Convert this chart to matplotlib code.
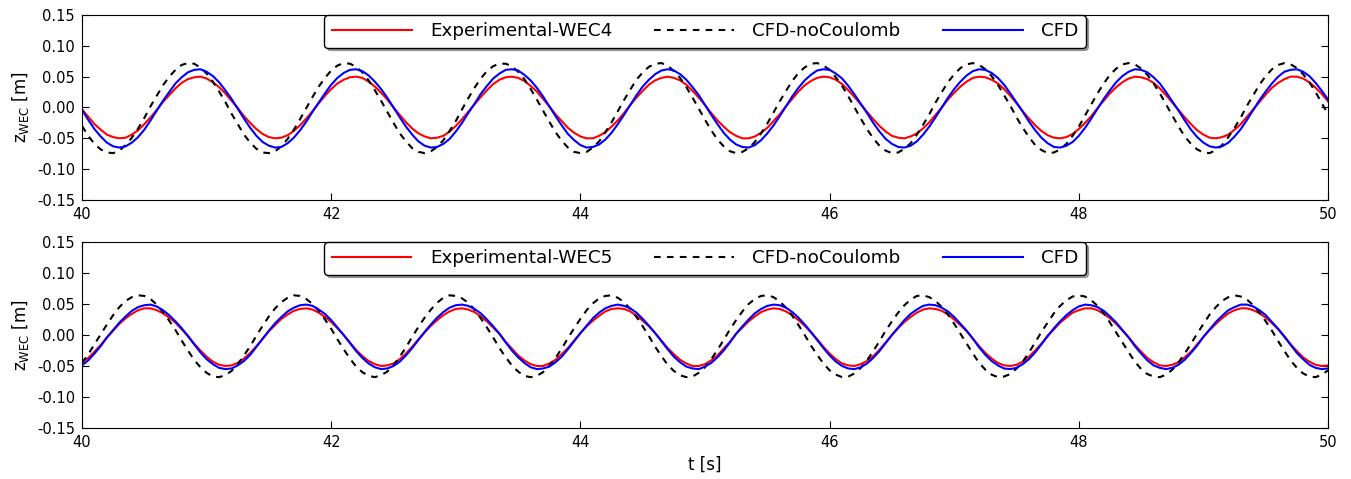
import numpy as np
import matplotlib
matplotlib.use("Agg")
import matplotlib.pyplot as plt

# heave displacement z_WEC [m] read off the figure, sampled every 0.1 s from 40 s to 50 s,
# plus the readings half way between those samples (40.05, 40.15, ...)

# upper panel (WEC4)
wec4_exp = [-0.003, -0.027, -0.044, -0.050, -0.044, -0.027, -0.004, 0.020, 0.040, 0.049,
            0.047, 0.033, 0.011, -0.014, -0.035, -0.048, -0.049, -0.038, -0.018, 0.007,
            0.030, 0.045, 0.050, 0.042, 0.024, 0.000, -0.024, -0.042, -0.050, -0.046,
            -0.030, -0.007, 0.017, 0.038, 0.049, 0.048, 0.035, 0.014, -0.011, -0.033,
            -0.047, -0.050, -0.040, -0.021, 0.004, 0.027, 0.044, 0.050, 0.044, 0.027,
            0.004, -0.021, -0.040, -0.050, -0.047, -0.033, -0.011, 0.014, 0.036, 0.048,
            0.049, 0.038, 0.017, -0.007, -0.030, -0.046, -0.050, -0.042, -0.024, 0.000,
            0.024, 0.042, 0.050, 0.045, 0.030, 0.007, -0.018, -0.038, -0.049, -0.048,
            -0.035, -0.014, 0.011, 0.033, 0.047, 0.049, 0.040, 0.020, -0.004, -0.027,
            -0.044, -0.050, -0.044, -0.027, -0.003, 0.021, 0.040, 0.050, 0.047, 0.032,
            0.010]
wec4_exp_mid = [-0.015, -0.036, -0.048, -0.049, -0.037, -0.016, 0.009, 0.031, 0.046, 0.050,
                0.041, 0.023, -0.001, -0.025, -0.043, -0.050, -0.045, -0.029, -0.006, 0.019,
                0.039, 0.049, 0.048, 0.034, 0.013, -0.012, -0.034, -0.047, -0.049, -0.039,
                -0.019, 0.005, 0.028, 0.045, 0.050, 0.043, 0.026, 0.002, -0.022, -0.041,
                -0.050, -0.046, -0.031, -0.009, 0.016, 0.037, 0.048, 0.048, 0.037, 0.016,
                -0.009, -0.031, -0.046, -0.050, -0.041, -0.022, 0.002, 0.026, 0.043, 0.050,
                0.045, 0.028, 0.005, -0.019, -0.039, -0.049, -0.047, -0.034, -0.012, 0.013,
                0.034, 0.048, 0.049, 0.039, 0.019, -0.006, -0.029, -0.045, -0.050, -0.043,
                -0.025, -0.001, 0.023, 0.041, 0.050, 0.046, 0.031, 0.008, -0.016, -0.037,
                -0.049, -0.048, -0.036, -0.015, 0.009, 0.032, 0.046, 0.050, 0.041, 0.022]
wec4_nocoul = [-0.030, -0.059, -0.073, -0.070, -0.049, -0.017, 0.019, 0.050, 0.069, 0.071,
               0.055, 0.026, -0.010, -0.044, -0.067, -0.074, -0.063, -0.036, -0.001, 0.034,
               0.060, 0.072, 0.066, 0.044, 0.011, -0.025, -0.055, -0.072, -0.071, -0.053,
               -0.022, 0.015, 0.047, 0.067, 0.071, 0.058, 0.030, -0.005, -0.040, -0.065,
               -0.074, -0.065, -0.040, -0.006, 0.029, 0.057, 0.071, 0.068, 0.048, 0.016,
               -0.020, -0.052, -0.071, -0.072, -0.056, -0.026, 0.010, 0.043, 0.065, 0.072,
               0.061, 0.035, 0.000, -0.035, -0.062, -0.074, -0.067, -0.044, -0.011, 0.025,
               0.054, 0.070, 0.069, 0.051, 0.020, -0.016, -0.048, -0.069, -0.073, -0.059,
               -0.031, 0.005, 0.039, 0.063, 0.072, 0.063, 0.039, 0.005, -0.031, -0.059,
               -0.073, -0.069, -0.048, -0.016, 0.020, 0.051, 0.069, 0.070, 0.054, 0.025,
               -0.011]
wec4_nocoul_mid = [-0.046, -0.068, -0.074, -0.061, -0.034, 0.002, 0.036, 0.061, 0.072, 0.065,
                   0.042, 0.009, -0.027, -0.057, -0.073, -0.071, -0.051, -0.019, 0.017, 0.048,
                   0.068, 0.071, 0.057, 0.028, -0.007, -0.042, -0.066, -0.074, -0.064, -0.038,
                   -0.003, 0.032, 0.059, 0.071, 0.067, 0.046, 0.013, -0.023, -0.054, -0.072,
                   -0.072, -0.055, -0.024, 0.012, 0.045, 0.066, 0.072, 0.059, 0.033, -0.002,
                   -0.037, -0.063, -0.074, -0.066, -0.042, -0.008, 0.027, 0.056, 0.071, 0.068,
                   0.049, 0.018, -0.018, -0.050, -0.070, -0.073, -0.058, -0.028, 0.008, 0.041,
                   0.064, 0.072, 0.062, 0.037, 0.003, -0.033, -0.061, -0.074, -0.068, -0.046,
                   -0.013, 0.023, 0.053, 0.070, 0.070, 0.053, 0.023, -0.013, -0.047, -0.068,
                   -0.074, -0.061, -0.033, 0.003, 0.037, 0.062, 0.072, 0.064, 0.041, 0.007]
wec4_cfd = [-0.004, -0.035, -0.057, -0.065, -0.057, -0.036, -0.005, 0.025, 0.049, 0.061,
            0.058, 0.041, 0.014, -0.018, -0.046, -0.062, -0.064, -0.049, -0.023, 0.008,
            0.037, 0.056, 0.062, 0.052, 0.030, 0.000, -0.031, -0.055, -0.065, -0.059,
            -0.039, -0.009, 0.022, 0.047, 0.061, 0.060, 0.044, 0.018, -0.014, -0.043,
            -0.061, -0.064, -0.052, -0.027, 0.004, 0.034, 0.054, 0.062, 0.054, 0.033,
            0.004, -0.027, -0.052, -0.064, -0.061, -0.042, -0.014, 0.018, 0.044, 0.060,
            0.061, 0.047, 0.021, -0.009, -0.039, -0.059, -0.065, -0.055, -0.031, 0.000,
            0.030, 0.052, 0.062, 0.056, 0.037, 0.008, -0.023, -0.049, -0.064, -0.062,
            -0.046, -0.018, 0.014, 0.041, 0.058, 0.061, 0.049, 0.025, -0.005, -0.036,
            -0.057, -0.065, -0.057, -0.035, -0.004, 0.026, 0.050, 0.061, 0.058, 0.040,
            0.013]
wec4_cfd_mid = [-0.020, -0.047, -0.063, -0.063, -0.048, -0.021, 0.011, 0.039, 0.057, 0.062,
                0.051, 0.028, -0.002, -0.033, -0.056, -0.065, -0.058, -0.037, -0.007, 0.023,
                0.048, 0.061, 0.059, 0.042, 0.016, -0.016, -0.044, -0.062, -0.064, -0.051,
                -0.025, 0.006, 0.035, 0.055, 0.062, 0.053, 0.032, 0.002, -0.029, -0.053,
                -0.065, -0.060, -0.041, -0.012, 0.020, 0.045, 0.060, 0.060, 0.045, 0.020,
                -0.012, -0.041, -0.060, -0.065, -0.053, -0.029, 0.002, 0.032, 0.053, 0.062,
                0.055, 0.035, 0.006, -0.025, -0.051, -0.064, -0.062, -0.044, -0.016, 0.016,
                0.042, 0.059, 0.061, 0.048, 0.023, -0.007, -0.037, -0.058, -0.065, -0.056,
                -0.033, -0.002, 0.028, 0.051, 0.062, 0.057, 0.039, 0.010, -0.021, -0.048,
                -0.063, -0.063, -0.047, -0.020, 0.012, 0.039, 0.058, 0.062, 0.051, 0.027]

# lower panel (WEC5)
wec5_exp = [-0.044, -0.027, -0.004, 0.018, 0.034, 0.043, 0.040, 0.028, 0.009, -0.014,
            -0.035, -0.048, -0.049, -0.038, -0.018, 0.006, 0.026, 0.039, 0.043, 0.036,
            0.021, 0.000, -0.024, -0.042, -0.050, -0.046, -0.030, -0.007, 0.015, 0.032,
            0.042, 0.041, 0.030, 0.012, -0.011, -0.033, -0.047, -0.050, -0.040, -0.021,
            0.003, 0.023, 0.038, 0.043, 0.038, 0.023, 0.003, -0.021, -0.040, -0.050,
            -0.047, -0.033, -0.011, 0.012, 0.030, 0.041, 0.042, 0.032, 0.015, -0.007,
            -0.030, -0.046, -0.050, -0.042, -0.024, 0.000, 0.021, 0.036, 0.043, 0.039,
            0.025, 0.006, -0.018, -0.038, -0.049, -0.048, -0.035, -0.014, 0.009, 0.028,
            0.040, 0.043, 0.034, 0.018, -0.004, -0.027, -0.044, -0.050, -0.044, -0.027,
            -0.003, 0.018, 0.035, 0.043, 0.040, 0.028, 0.009, -0.015, -0.036, -0.048,
            -0.049]
wec5_exp_mid = [-0.037, -0.016, 0.007, 0.027, 0.040, 0.043, 0.035, 0.020, -0.001, -0.025,
                -0.043, -0.050, -0.045, -0.029, -0.006, 0.016, 0.033, 0.042, 0.041, 0.029,
                0.011, -0.012, -0.034, -0.047, -0.049, -0.039, -0.019, 0.004, 0.024, 0.038,
                0.043, 0.037, 0.022, 0.002, -0.022, -0.041, -0.050, -0.046, -0.031, -0.009,
                0.014, 0.031, 0.042, 0.042, 0.031, 0.014, -0.009, -0.031, -0.046, -0.050,
                -0.041, -0.022, 0.002, 0.022, 0.037, 0.043, 0.038, 0.024, 0.004, -0.019,
                -0.039, -0.049, -0.047, -0.034, -0.012, 0.011, 0.029, 0.041, 0.042, 0.033,
                0.016, -0.006, -0.029, -0.045, -0.050, -0.043, -0.025, -0.001, 0.020, 0.036,
                0.043, 0.040, 0.027, 0.007, -0.016, -0.037, -0.049, -0.048, -0.036, -0.015,
                0.008, 0.027, 0.040, 0.043, 0.035, 0.019, -0.002, -0.026, -0.043, -0.050]
wec5_nocoul = [-0.045, -0.015, 0.017, 0.045, 0.061, 0.063, 0.049, 0.023, -0.009, -0.040,
               -0.061, -0.068, -0.058, -0.033, -0.001, 0.030, 0.053, 0.064, 0.058, 0.039,
               0.010, -0.023, -0.051, -0.066, -0.065, -0.049, -0.020, 0.013, 0.041, 0.060,
               0.063, 0.052, 0.027, -0.004, -0.036, -0.059, -0.068, -0.060, -0.037, -0.005,
               0.026, 0.051, 0.063, 0.060, 0.042, 0.014, -0.019, -0.048, -0.065, -0.067,
               -0.052, -0.024, 0.009, 0.038, 0.058, 0.064, 0.054, 0.031, 0.000, -0.032,
               -0.057, -0.068, -0.062, -0.041, -0.010, 0.022, 0.048, 0.063, 0.061, 0.045,
               0.018, -0.014, -0.045, -0.064, -0.067, -0.054, -0.028, 0.005, 0.035, 0.056,
               0.064, 0.056, 0.035, 0.004, -0.028, -0.055, -0.067, -0.064, -0.044, -0.014,
               0.018, 0.045, 0.061, 0.062, 0.048, 0.022, -0.010, -0.041, -0.062, -0.068,
               -0.057]
wec5_nocoul_mid = [-0.031, 0.001, 0.032, 0.055, 0.064, 0.058, 0.037, 0.008, -0.025, -0.052,
                   -0.067, -0.065, -0.047, -0.018, 0.015, 0.043, 0.060, 0.063, 0.050, 0.025,
                   -0.007, -0.038, -0.060, -0.068, -0.059, -0.035, -0.003, 0.028, 0.052, 0.064,
                   0.059, 0.041, 0.012, -0.021, -0.049, -0.066, -0.066, -0.050, -0.022, 0.011,
                   0.040, 0.059, 0.064, 0.053, 0.029, -0.002, -0.034, -0.058, -0.068, -0.061,
                   -0.039, -0.008, 0.024, 0.050, 0.063, 0.061, 0.044, 0.016, -0.017, -0.046,
                   -0.064, -0.067, -0.053, -0.026, 0.007, 0.036, 0.057, 0.064, 0.055, 0.033,
                   0.002, -0.030, -0.056, -0.068, -0.063, -0.043, -0.012, 0.020, 0.047, 0.062,
                   0.062, 0.047, 0.020, -0.012, -0.043, -0.063, -0.068, -0.056, -0.030, 0.002,
                   0.033, 0.055, 0.064, 0.057, 0.036, 0.007, -0.026, -0.053, -0.067, -0.064]
wec5_cfd = [-0.049, -0.030, -0.004, 0.020, 0.039, 0.048, 0.046, 0.032, 0.011, -0.015,
            -0.039, -0.053, -0.054, -0.042, -0.019, 0.007, 0.029, 0.044, 0.049, 0.041,
            0.024, 0.000, -0.026, -0.046, -0.055, -0.050, -0.033, -0.008, 0.017, 0.037,
            0.048, 0.047, 0.035, 0.014, -0.012, -0.036, -0.052, -0.054, -0.044, -0.023,
            0.003, 0.027, 0.043, 0.049, 0.043, 0.026, 0.003, -0.023, -0.044, -0.054,
            -0.051, -0.036, -0.012, 0.014, 0.035, 0.047, 0.048, 0.037, 0.017, -0.008,
            -0.033, -0.050, -0.055, -0.046, -0.026, 0.000, 0.024, 0.041, 0.049, 0.044,
            0.029, 0.007, -0.020, -0.042, -0.054, -0.053, -0.039, -0.015, 0.011, 0.032,
            0.046, 0.048, 0.039, 0.020, -0.004, -0.030, -0.049, -0.055, -0.048, -0.029,
            -0.003, 0.021, 0.040, 0.049, 0.046, 0.032, 0.010, -0.016, -0.039, -0.053,
            -0.054]
wec5_cfd_mid = [-0.041, -0.018, 0.008, 0.030, 0.045, 0.049, 0.040, 0.022, -0.002, -0.028,
                -0.047, -0.055, -0.049, -0.032, -0.006, 0.019, 0.038, 0.048, 0.047, 0.034,
                0.012, -0.013, -0.037, -0.052, -0.054, -0.043, -0.021, 0.005, 0.028, 0.044,
                0.049, 0.042, 0.025, 0.002, -0.025, -0.045, -0.055, -0.051, -0.035, -0.010,
                0.015, 0.036, 0.047, 0.047, 0.036, 0.015, -0.010, -0.035, -0.051, -0.055,
                -0.045, -0.025, 0.002, 0.025, 0.042, 0.049, 0.044, 0.028, 0.005, -0.021,
                -0.043, -0.054, -0.052, -0.037, -0.013, 0.012, 0.034, 0.047, 0.048, 0.038,
                0.018, -0.006, -0.032, -0.049, -0.055, -0.047, -0.028, -0.002, 0.022, 0.040,
                0.049, 0.045, 0.030, 0.008, -0.018, -0.041, -0.053, -0.053, -0.040, -0.017,
                0.009, 0.031, 0.045, 0.049, 0.040, 0.021, -0.003, -0.029, -0.048, -0.055]

panels = [
    ("Experimental-WEC4", (wec4_exp, wec4_exp_mid), (wec4_nocoul, wec4_nocoul_mid),
     (wec4_cfd, wec4_cfd_mid)),
    ("Experimental-WEC5", (wec5_exp, wec5_exp_mid), (wec5_nocoul, wec5_nocoul_mid),
     (wec5_cfd, wec5_cfd_mid)),
]

t = 40 + 0.05 * np.arange(201)


def merge(pair):
    # put the 0.1 s samples and the in-between readings back in time order
    full, mid = pair
    z = np.empty(len(full) + len(mid))
    z[0::2] = full
    z[1::2] = mid
    return z


plt.rcParams["mathtext.default"] = "regular"

fig = plt.figure(figsize=(13.51, 4.79), dpi=100)
ax_top = fig.add_axes([0.0607, 0.5825, 0.9223, 0.3862])
ax_bot = fig.add_axes([0.0607, 0.1065, 0.9223, 0.3883])

for ax, (exp_label, exp_data, nocoul_data, cfd_data) in zip([ax_top, ax_bot], panels):
    ax.plot(t, merge(exp_data), color="r", lw=1.5, label=exp_label)
    ax.plot(t, merge(nocoul_data), color="k", lw=1.5, ls=(0, (3.2, 3.0)),
            label="CFD-noCoulomb")
    ax.plot(t, merge(cfd_data), color="b", lw=1.5, label="CFD")
    ax.set_xlim(40, 50)
    ax.set_ylim(-0.15, 0.15)
    ax.set_xticks([40, 42, 44, 46, 48, 50])
    ax.set_yticks([-0.15, -0.10, -0.05, 0.00, 0.05, 0.10, 0.15])
    ax.yaxis.set_major_formatter(plt.FormatStrFormatter("%.2f"))
    ax.tick_params(direction="in", top=True, right=True, length=5,
                   labelsize=10.5, pad=5)
    ax.set_ylabel(r"z$_{WEC}$ [m]", fontsize=12)
    leg = ax.legend(loc="upper center", bbox_to_anchor=(0.5, 1.0), ncol=3,
                    borderaxespad=0, fontsize=13.2, handlelength=4.35,
                    handletextpad=1.0, columnspacing=2.3, fancybox=True,
                    shadow=True, framealpha=1)
    leg.get_frame().set_edgecolor("black")

ax_bot.set_xlabel("t [s]", fontsize=12)

fig.savefig("out.png", dpi=100, facecolor="white")
